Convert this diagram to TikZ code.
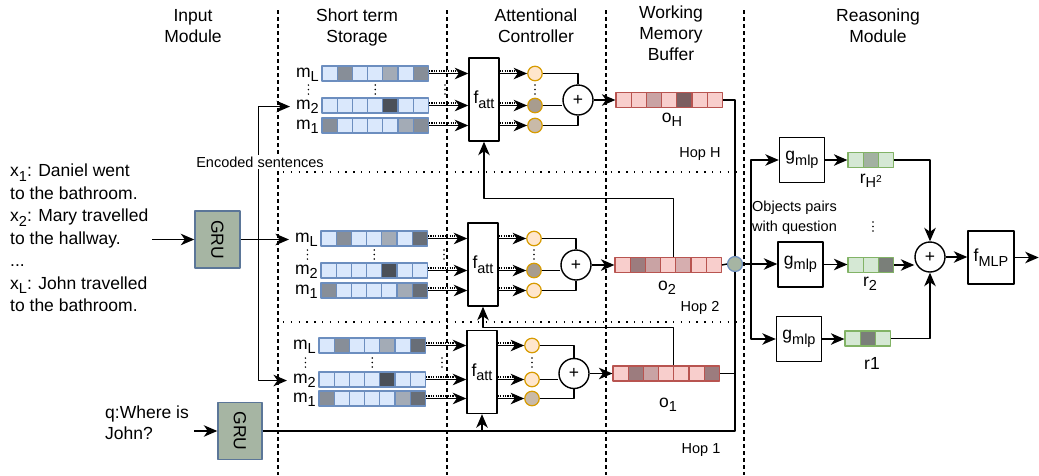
\documentclass[tikz,border=0pt]{standalone}
\usepackage{fontspec}
\setmainfont{Liberation Sans}
\usepackage{graphicx}
\usetikzlibrary{arrows.meta,calc,positioning}
\definecolor{mfill}{HTML}{DAE8FC}
\definecolor{mline}{HTML}{6C8EBF}
\definecolor{mgA}{HTML}{878E98}
\definecolor{mgB}{HTML}{A3ABB6}
\definecolor{mgC}{HTML}{4B5058}
\definecolor{mgD}{HTML}{686E77}
\definecolor{ofill}{HTML}{F8CECC}
\definecolor{oline}{HTML}{B85450}
\definecolor{orA}{HTML}{9C7C7E}
\definecolor{orB}{HTML}{C9A3A4}
\definecolor{orC}{HTML}{D6AEAF}
\definecolor{orD}{HTML}{7B5E60}
\definecolor{rfill}{HTML}{D5E8D4}
\definecolor{rline}{HTML}{82B366}
\definecolor{rgA}{HTML}{A3B1A2}
\definecolor{rgB}{HTML}{7A7F79}
\definecolor{afill}{HTML}{FFE6CC}
\definecolor{aline}{HTML}{D79B00}
\definecolor{agA}{HTML}{A89C8E}
\definecolor{agB}{HTML}{C9BAA8}
\definecolor{grufill}{HTML}{A6B5A3}
\definecolor{gruline}{HTML}{5B7698}

\newcommand{\subs}[1]{\raisebox{-4.5pt}{\fontsize{14.5}{14.5}\selectfont #1}}

% style, name, left x, y, fills
\newcommand{\cellrow}[5]{%
  \foreach \f [count=\i] in {#5}
    \node[#1, fill=\f] (#2-\i) at ({#3+(\i-0.5)*15.2}, #4) {};
}

% wires inside one hop
\newcommand{\hopwires}[1]{%
  \foreach \r in {L,2,1} {
    \draw[ghost] ($(h#1\r-7.east)+(0,-2.5)$) -- ($(h#1\r-7.east -| f#1.west)+(-12,-2.5)$);
    \draw[wire,->] (h#1\r-7.east) -- (h#1\r-7.east -| f#1.west);
    \draw[ghost] ($(f#1.east |- a#1\r)+(0,-2.5)$) -- ($(a#1\r.west)+(-12,-2.5)$);
    \draw[wire,->] (f#1.east |- a#1\r) -- (a#1\r.west);
  }
  \draw[wire] (a#1L.east) -| (s#1.north);
  \draw[wire] (a#12.east) -- (a#12.east -| s#1.west);
  \draw[wire] (a#11.east) -| (s#1.south);
  \draw[wire,->] (s#1.east) -- (o#1-1.west);
  \draw[dotcol] ($(h#1L-1.west)!0.5!(h#12-1.west)+(-13,0)$) ++(0,-4.5) -- ++(0,9.2);
  \draw[dotcol] ($(h#1L-4)!0.5!(h#12-4)$) ++(0,-4.5) -- ++(0,9.2);
  \draw[dotcol] ($(h#1L-7.east)!0.5!(h#12-7.east)+(16,0)$) ++(0,-4.5) -- ++(0,9.2);
  \draw[dotcol] ($(a#1L)!0.5!(a#12)$) ++(0,-4.5) -- ++(0,9.2);
}

\tikzset{
  wire/.style={line width=1.45pt},
  ghost/.style={line width=1.2pt, dash pattern=on 1.2pt off 1.2pt},
  zone/.style={line width=1.4pt, dash pattern=on 4pt off 3pt},
  hopline/.style={line width=1.4pt, dash pattern=on 1.3pt off 6.5pt},
  dotcol/.style={line width=1.7pt, line cap=round, dash pattern=on 0pt off 4.5pt},
  mcell/.style={draw=mline, line width=1.2pt, minimum width=15.2pt, minimum height=15pt, inner sep=0pt},
  ocell/.style={mcell, draw=oline},
  rcell/.style={mcell, draw=rline},
  mlab/.style={anchor=base east, inner sep=0pt},
  fatt/.style={draw, line width=1.4pt, minimum width=30pt, minimum height=83pt, inner sep=0pt},
  gmlp/.style={draw, line width=1.4pt, minimum width=45pt, minimum height=45pt, inner sep=0pt},
  attn/.style={circle, draw=aline, fill=afill, line width=1.2pt, minimum size=14.5pt, inner sep=0pt},
  sumnode/.style={circle, draw, line width=1.4pt, minimum size=30pt, inner sep=0pt},
  gru/.style={draw=gruline, fill=grufill, line width=1.4pt, minimum width=45pt, minimum height=57pt, inner sep=0pt},
  heading/.style={anchor=north, align=center, inner sep=0pt},
  smalltxt/.style={font=\fontsize{14.5}{20}\selectfont, inner sep=0pt},
}

\begin{document}
\begin{tikzpicture}[x=1pt,y=-1pt,line join=round,>={Stealth[length=13.5pt,width=11.5pt,inset=4pt]},font=\fontsize{17.5}{21}\selectfont]
\useasboundingbox (0,0) rectangle (1039,475);
% module borders and hops
\foreach \x in {278,447,606,744}
  \draw[zone] (\x,10) -- (\x,475);
\foreach \y in {172,322}
  \draw[hopline] (283,\y) -- (744,\y);

\node[heading] (hdIn) at (193,9) {Input\\Module};
\node[heading] (hdSt) at (357,9) {Short term\\Storage};
\node[heading] (hdAt) at (536,9) {Attentional\\Controller};
\node[heading] (hdWm) at (671,6) {Working\\Memory\\Buffer};
\node[heading] (hdRe) at (878,9) {Reasoning\\Module};

% input module
\node[anchor=north west, align=left, inner sep=0pt, font=\fontsize{17.5}{22.5}\selectfont] (story) at (10,164)
  {x\subs{1}: Daniel went\\to the bathroom.\\x\subs{2}: Mary travelled\\to the hallway.\\...\\x\subs{L}: John travelled\\to the bathroom.};
\node[anchor=north west, align=left, inner sep=0pt] (query) at (105,406) {q:Where is\\John?};
\node[gru] (gin) at (217.5,239.5) {\rotatebox{-90}{GRU}};
\node[gru, minimum width=44pt] (gq) at (240,431) {\rotatebox{-90}{GRU}};
\draw[wire,->] ($(story.east |- gin.west)+(4,0)$) -- (gin.west);
\draw[wire,->] ($(query.east |- gq.west)+(5,0)$) -- (gq.west);

% hop H
\cellrow{mcell}{hHL}{322}{73.5}{mfill,mgA,mfill,mfill,mgB,mfill,mgA}
\cellrow{mcell}{hH2}{322}{105.5}{mfill,mfill,mfill,mfill,mgC,mfill,mfill}
\cellrow{mcell}{hH1}{322}{125.5}{mgA,mfill,mfill,mfill,mfill,mgB,mgA}
\node[mlab] (hHL-lab) at (319,77) {m\subs{L}};
\node[mlab] (hH2-lab) at (319,109) {m\subs{2}};
\node[mlab] (hH1-lab) at (319,129) {m\subs{1}};
\node[fatt] (fH) at (484,99.5) {f\subs{att}};
\node[attn] (aHL) at (535,73.5) {};
\node[attn, fill=agA] (aH2) at (535,105.5) {};
\node[attn, fill=agB] (aH1) at (535,125.5) {};
\node[sumnode] (sH) at (578,100) {+};
\cellrow{ocell}{oH}{616}{100}{ofill,ofill,orB,ofill,orD,ofill,ofill}
\node[anchor=base] (oHlab) at (672,122) {o\subs{H}};
\node[smalltxt, anchor=base] (hopH) at (700,157) {Hop H};
\hopwires{H}

% hop 2
\cellrow{mcell}{h2L}{321}{238.5}{mfill,mgA,mfill,mfill,mgB,mfill,mgD}
\cellrow{mcell}{h22}{321}{270.5}{mfill,mfill,mfill,mfill,mgC,mfill,mfill}
\cellrow{mcell}{h21}{321}{290.5}{mgA,mfill,mfill,mfill,mfill,mgB,mgD}
\node[mlab] (h2L-lab) at (318,242) {m\subs{L}};
\node[mlab] (h22-lab) at (318,274) {m\subs{2}};
\node[mlab] (h21-lab) at (318,294) {m\subs{1}};
\node[fatt] (f2) at (483,264.5) {f\subs{att}};
\node[attn] (a2L) at (534,238.5) {};
\node[attn, fill=agA] (a22) at (534,270.5) {};
\node[attn] (a21) at (534,290.5) {};
\node[sumnode] (s2) at (576,265) {+};
\cellrow{ocell}{o2}{615}{265}{ofill,orA,orB,ofill,orC,ofill,ofill}
\node[anchor=base] (o2lab) at (667,290) {o\subs{2}};
\node[smalltxt, anchor=base] (hop2) at (700,311) {Hop 2};
\hopwires{2}

% hop 1
\cellrow{mcell}{h1L}{319}{345.5}{mfill,mgA,mfill,mfill,mgB,mfill,mgD}
\cellrow{mcell}{h12}{319}{379.5}{mfill,mfill,mfill,mfill,mgC,mfill,mfill}
\cellrow{mcell}{h11}{319}{398.5}{mgA,mfill,mfill,mfill,mfill,mgB,mgD}
\node[mlab] (h1L-lab) at (316,349) {m\subs{L}};
\node[mlab] (h12-lab) at (316,383) {m\subs{2}};
\node[mlab] (h11-lab) at (316,402) {m\subs{1}};
\node[fatt] (f1) at (482,372) {f\subs{att}};
\node[attn] (a1L) at (532,345.5) {};
\node[attn] (a12) at (532,379.5) {};
\node[attn, fill=agB] (a11) at (532,398.5) {};
\node[sumnode] (s1) at (574,373.5) {+};
\cellrow{ocell}{o1}{613}{373.5}{ofill,orA,orB,ofill,ofill,ofill,orA}
\node[anchor=base] (o1lab) at (668,407) {o\subs{1}};
\node[smalltxt, anchor=base] (hop1) at (701,453) {Hop 1};
\hopwires{1}

% encoded sentences into storage
\coordinate (split) at ($(gin.east)+(18,0)$);
\draw[wire,->] (gin.east) -- ($(gin.east -| h2L-lab.west)+(-6,0)$);
\draw[wire,->] (split) |- ($(hH2-lab.west)+(-6,0)$);
\draw[wire,->] (split) |- ($(h12-lab.west)+(-6,0)$);
\node[smalltxt, fill=white, inner sep=1.5pt] (enc) at (260,162) {Encoded sentences};

% hop to hop
\draw[wire,->] ([xshift=-3pt]o2-4.north east) |- ($(fH.south)+(0,57)$) -- (fH.south);
\draw[wire,->] ([xshift=-1pt]o1-4.north east) |- ($(f2.south)+(0,21)$) -- (f2.south);
\draw[wire,->] (f1.south |- gq.east) -- (f1.south);

% reasoning module
\node[attn, draw=mline, fill=grufill, minimum size=15pt] (cat) at (735,264) {};
\draw[wire] (oH-7.east) -| (cat.north);
\draw[wire] (o2-7.east) -- (cat.west);
\draw[wire] (o1-7.east) -| (cat.south);
\draw[wire] (gq.east) -| (cat.south);
\coordinate (fan) at ($(cat.east)+(8,0)$);
\draw[wire] (cat.east) -- (fan);
\node[smalltxt, anchor=north west, align=left] (pairs) at (752,201) {Objects pairs\\with question};
\node[gmlp] (gT) at (802,160) {g\subs{mlp}};
\node[gmlp] (gM) at (800.5,264.5) {g\subs{mlp}};
\node[gmlp] (gB) at (799,339) {g\subs{mlp}};
\draw[wire,->] (fan) |- (gT.west);
\draw[wire,->] (fan) -- (fan -| gM.west);
\draw[wire,->] (fan) |- (gB.west);
\cellrow{rcell}{rT}{848}{160}{rfill,rgA,rfill}
\cellrow{rcell}{rM}{848}{265}{rfill,rfill,rgB}
\cellrow{rcell}{rB}{845}{338.5}{rfill,rgB,rfill}
\draw[wire,->] (gT.east) -- (rT-1.west);
\draw[wire,->] (gM.east) -- (gM.east -| rM-1.west);
\draw[wire,->] (gB.east) -- (gB.east -| rB-1.west);
\node[anchor=base] (rTlab) at (871,183) {r\subs{H\textsuperscript{2}}};
\node[anchor=base] (rMlab) at (870,286) {r\subs{2}};
\node[anchor=base] (rBlab) at (872,369) {r1};
\draw[dotcol] (873,222) -- ++(0,9.2);
\node[sumnode] (sum) at (930,257) {+};
\node[draw, line width=1.4pt, minimum width=46pt, minimum height=53pt, inner sep=0pt] (fm) at (991,257.5) {f\subs{MLP}};
\coordinate (out) at ($(fm.east)+(24,0)$);
\draw[wire,->] (rT-3.east) -| (sum.north);
\draw[wire,->] (rM-3.east) -- (rM-3.east -| sum.west);
\draw[wire,->] (rB-3.east) -| (sum.south);
\draw[wire,->] (sum.east) -- (sum.east -| fm.west);
\draw[wire,->] (fm.east) -- (out);
\end{tikzpicture}
\end{document}
